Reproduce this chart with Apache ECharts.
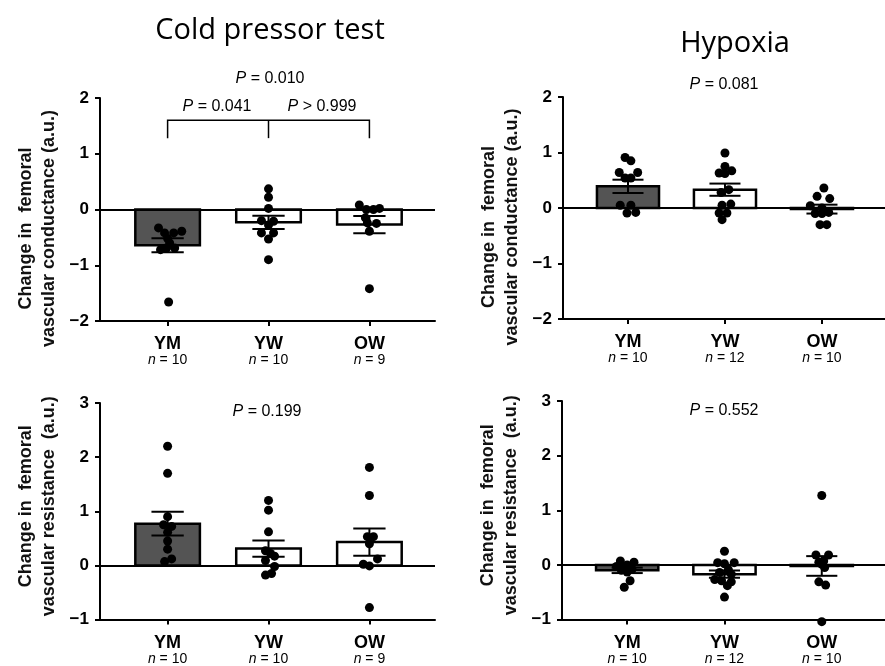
<!DOCTYPE html>
<html>
<head>
<meta charset="utf-8">
<script src="https://cdn.jsdelivr.net/npm/echarts@6/dist/echarts.min.js"></script>
<style>
html, body { margin: 0; padding: 0; background: #fff; }
#chart { width: 885px; height: 666px; }
</style>
</head>
<body>
<div id="chart"></div>
<script>
var byId = function(id) {
	return document.getElementById(id);
};

// groups and sample sizes
var groups = ['YM', 'YW', 'OW'];
var nCold = [10, 10, 9];
var nHyp = [10, 12, 10];

// cold pressor - conductance
var coldCondMean = [-0.64, -0.23, -0.27];
var coldCondSem = [0.125, 0.12, 0.155];
var coldCondYM = [-0.33, -0.42, -0.42, -0.39, -0.52, -0.6, -0.72, -0.69, -0.69, -1.66];
var coldCondYW = [0.37, 0.22, 0.02, -0.2, -0.21, -0.28, -0.42, -0.42, -0.53, -0.9];
var coldCondOW = [0.08, 0, 0, 0.02, -0.15, -0.24, -0.25, -0.39, -1.42];
var coldCondJit = [
	[-0.09, -0.03, 0.06, 0.14, 0, 0.02, -0.07, -0.01, 0.07, 0.01],
	[0, 0, 0, -0.07, 0.05, 0, -0.07, 0.05, 0, 0],
	[-0.1, -0.03, 0.04, 0.1, -0.04, -0.02, 0.07, 0, 0]
];

// hypoxia - conductance
var hypCondMean = [0.39, 0.33, -0.02];
var hypCondSem = [0.12, 0.11, 0.08];
var hypCondYM = [0.91, 0.85, 0.64, 0.64, 0.54, 0.54, 0.05, 0.05, -0.09, -0.08];
var hypCondYW = [0.99, 0.75, 0.63, 0.67, 0.62, 0.33, 0.28, 0.07, 0.05, -0.09, -0.09, -0.21];
var hypCondOW = [0.36, 0.21, 0.17, 0.04, 0, -0.08, -0.1, -0.1, -0.3, -0.3];
var hypCondJit = [
	[-0.03, 0.03, -0.09, 0.1, -0.03, 0.03, -0.08, 0.03, -0.01, 0.08],
	[0, 0, -0.06, 0.07, 0, 0.04, -0.04, 0.06, -0.03, -0.06, 0.02, -0.03],
	[0.02, -0.05, 0.08, -0.12, 0, 0.07, -0.07, 0, -0.02, 0.05]
];

// cold pressor - resistance
var coldResMean = [0.77, 0.31, 0.43];
var coldResSem = [0.22, 0.15, 0.25];
var coldResYM = [2.2, 1.7, 0.9, 0.75, 0.72, 0.61, 0.45, 0.3, 0.12, 0.07];
var coldResYW = [1.2, 1.02, 0.62, 0.27, 0.22, 0.17, 0.09, -0.02, -0.15, -0.18];
var coldResOW = [1.81, 1.29, 0.53, 0.53, 0.4, 0.12, 0.02, -0.01, -0.78];
var coldResJit = [
	[0, 0, 0, -0.04, 0.04, 0, 0, 0, 0.04, -0.03],
	[0, 0, 0, -0.03, 0.02, 0.06, -0.03, 0.06, 0.03, -0.03],
	[0, 0, -0.02, 0.04, 0, 0.08, -0.06, 0, 0]
];

// hypoxia - resistance
var hypResMean = [-0.1, -0.17, -0.02];
var hypResSem = [0.05, 0.065, 0.18];
var hypResYM = [0.07, 0.05, 0, -0.03, -0.05, -0.08, -0.1, -0.13, -0.29, -0.41];
var hypResYW = [0.25, 0.04, 0.02, 0.04, -0.09, -0.14, -0.17, -0.27, -0.29, -0.31, -0.38, -0.59];
var hypResOW = [1.27, 0.18, 0.18, 0.05, 0.07, 0.01, -0.05, -0.31, -0.37, -1.04];
var hypResJit = [
	[-0.07, 0.07, 0, -0.11, -0.01, 0.05, -0.06, 0, 0.03, -0.03],
	[0, -0.07, 0, 0.1, 0.04, -0.05, 0.07, -0.1, -0.03, 0.07, 0.03, 0],
	[0, -0.06, 0.07, -0.03, 0.02, 0, 0.03, -0.03, 0.04, 0]
];

// bracket for the cold pressor conductance panel
var bracketX = [0, 1, 2];
var bracketY = [1.28, 1.6];

var FONT = '"Liberation Sans", Arial, sans-serif';

var panels = [
	{ grid: { left: 100, top: 98, width: 335, height: 223 }, min: -2, max: 2, name: 'Change in  femoral\nvascular conductance (a.u.)', pad: [0, 38, 0, 0],
		mean: coldCondMean, sem: coldCondSem, pts: [coldCondYM, coldCondYW, coldCondOW], jit: coldCondJit, n: nCold },
	{ grid: { left: 563, top: 97, width: 335, height: 222 }, min: -2, max: 2, name: 'Change in  femoral\nvascular conductance (a.u.)', pad: [0, 38, 0, 0],
		mean: hypCondMean, sem: hypCondSem, pts: [hypCondYM, hypCondYW, hypCondOW], jit: hypCondJit, n: nHyp },
	{ grid: { left: 100, top: 403, width: 335, height: 223 }, min: -1, max: 3, name: 'Change in  femoral\nvascular resistance  (a.u.)', pad: [0, 0, 0, 10],
		mean: coldResMean, sem: coldResSem, pts: [coldResYM, coldResYW, coldResOW], jit: coldResJit, n: nCold },
	{ grid: { left: 562, top: 401, width: 335, height: 220 }, min: -1, max: 3, name: 'Change in  femoral\nvascular resistance  (a.u.)', pad: [0, 0, 0, 10],
		mean: hypResMean, sem: hypResSem, pts: [hypResYM, hypResYW, hypResOW], jit: hypResJit, n: nHyp }
];

var grids = [], xAxes = [], yAxes = [], series = [];

panels.forEach(function(p, i) {
	grids.push(p.grid);
	var nn = p.n;
	xAxes.push({
		type: 'value', gridIndex: i, min: -0.67, max: 2.65,
		splitLine: { show: false },
		axisLine: { onZero: false, lineStyle: { color: '#000', width: 2 } },
		axisTick: { customValues: [0, 1, 2], length: 5, lineStyle: { color: '#000', width: 2 } },
		axisLabel: {
			customValues: [0, 1, 2], margin: 15,
			formatter: function(v) {
				var k = Math.round(v);
				return '{g|' + groups[k] + '}\n{i|n}{s| = ' + nn[k] + '}';
			},
			rich: {
				g: { fontFamily: FONT, fontWeight: 'bold', fontSize: 18, color: '#000', lineHeight: 17 },
				i: { fontFamily: FONT, fontStyle: 'italic', fontSize: 14, color: '#000', lineHeight: 15 },
				s: { fontFamily: FONT, fontSize: 14, color: '#000', lineHeight: 15 }
			}
		}
	});
	yAxes.push({
		type: 'value', gridIndex: i, min: p.min, max: p.max, interval: 1,
		name: p.name, nameLocation: 'middle', nameGap: 39,
		nameTextStyle: { fontFamily: FONT, fontWeight: 'bold', fontSize: 18, color: '#111', lineHeight: 23, padding: p.pad },
		splitLine: { show: false },
		axisLine: { onZero: false, lineStyle: { color: '#000', width: 2 } },
		axisTick: { length: 5, lineStyle: { color: '#000', width: 2 } },
		axisLabel: {
			fontFamily: FONT, fontWeight: 'bold', fontSize: 17, color: '#000', margin: 11,
			formatter: function(v) { return v < 0 ? '\u2212' + Math.abs(v) : String(v); }
		}
	});

	var barData = [];
	for (var k = 0; k < 3; k++) barData.push([k, p.mean[k], p.sem[k]]);

	series.push({
		type: 'custom', xAxisIndex: i, yAxisIndex: i, z: 2, silent: true,
		data: barData,
		renderItem: function(params, api) {
			var x = api.value(0), m = api.value(1);
			var a = api.coord([x - 0.32, m]);
			var b = api.coord([x + 0.32, 0]);
			return {
				type: 'rect',
				shape: { x: a[0], y: Math.min(a[1], b[1]), width: b[0] - a[0], height: Math.abs(b[1] - a[1]) },
				style: { fill: x === 0 ? '#545454' : '#fff', stroke: '#000', lineWidth: 2.5 }
			};
		},
		markLine: {
			silent: true, symbol: ['none', 'none'], label: { show: false },
			lineStyle: { color: '#000', width: 2, type: 'solid' },
			data: [{ yAxis: 0 }]
		}
	});

	var dots = [];
	p.pts.forEach(function(arr, k) {
		arr.forEach(function(v, j) { dots.push([k + p.jit[k][j], v]); });
	});
	series.push({
		type: 'scatter', xAxisIndex: i, yAxisIndex: i, z: 3, silent: true,
		symbolSize: 9, itemStyle: { color: '#000', opacity: 1 }, clip: false,
		data: dots
	});

	series.push({
		type: 'custom', xAxisIndex: i, yAxisIndex: i, z: 4, silent: true,
		data: barData,
		renderItem: function(params, api) {
			var x = api.value(0), m = api.value(1), s = api.value(2);
			var lo = api.coord([x, m - s]), hi = api.coord([x, m + s]);
			var l1 = api.coord([x - 0.16, m + s]), r1 = api.coord([x + 0.16, m + s]);
			var l2 = api.coord([x - 0.16, m - s]), r2 = api.coord([x + 0.16, m - s]);
			var st = { stroke: '#000', lineWidth: 2 };
			return {
				type: 'group',
				children: [
					{ type: 'line', shape: { x1: lo[0], y1: lo[1], x2: hi[0], y2: hi[1] }, style: st },
					{ type: 'line', shape: { x1: l1[0], y1: l1[1], x2: r1[0], y2: r1[1] }, style: st },
					{ type: 'line', shape: { x1: l2[0], y1: l2[1], x2: r2[0], y2: r2[1] }, style: st }
				]
			};
		}
	});
});

// comparison bracket (panel 0)
series.push({
	type: 'custom', xAxisIndex: 0, yAxisIndex: 0, z: 4, silent: true,
	data: [[bracketX[0], bracketX[1], bracketX[2], bracketY[0], bracketY[1]]],
	renderItem: function(params, api) {
		var st = { stroke: '#000', lineWidth: 1.5, fill: null };
		var top = api.value(4), bot = api.value(3);
		var a = api.coord([api.value(0), bot]), b = api.coord([api.value(0), top]);
		var c = api.coord([api.value(2), top]), d = api.coord([api.value(2), bot]);
		var e = api.coord([api.value(1), top]), f = api.coord([api.value(1), bot]);
		return {
			type: 'group',
			children: [
				{ type: 'polyline', shape: { points: [a, b, c, d] }, style: st },
				{ type: 'line', shape: { x1: e[0], y1: e[1], x2: f[0], y2: f[1] }, style: st }
			]
		};
	}
});

var pRich = {
	i: { fontFamily: FONT, fontStyle: 'italic', fontSize: 16, fill: '#000' },
	s: { fontFamily: FONT, fontSize: 16, fill: '#000' }
};
function pText(x, y, txt) {
	return {
		type: 'text', x: x, y: y, silent: true,
		style: { text: '{i|P}{s|' + txt + '}', rich: pRich, align: 'center', verticalAlign: 'middle' }
	};
}

var TFONT = '29px "Open Sans", Lato, sans-serif';

var option = {
	animation: false,
	backgroundColor: '#fff',
	grid: grids,
	xAxis: xAxes,
	yAxis: yAxes,
	series: series,
	graphic: [
		{ type: 'text', x: 270, y: 31, silent: true,
			style: { text: 'Cold pressor test', font: TFONT, fill: '#000', align: 'center', verticalAlign: 'middle' } },
		{ type: 'text', x: 735, y: 44, silent: true,
			style: { text: 'Hypoxia', font: TFONT, fill: '#000', align: 'center', verticalAlign: 'middle' } },
		pText(270, 79, ' = 0.010'),
		pText(217, 107, ' = 0.041'),
		pText(322, 107, ' > 0.999'),
		pText(724, 85, ' = 0.081'),
		pText(267, 412, ' = 0.199'),
		pText(724, 411, ' = 0.552')
	]
};

var chart = echarts.init(byId('chart'));
chart.setOption(option);
</script>
</body>
</html>
